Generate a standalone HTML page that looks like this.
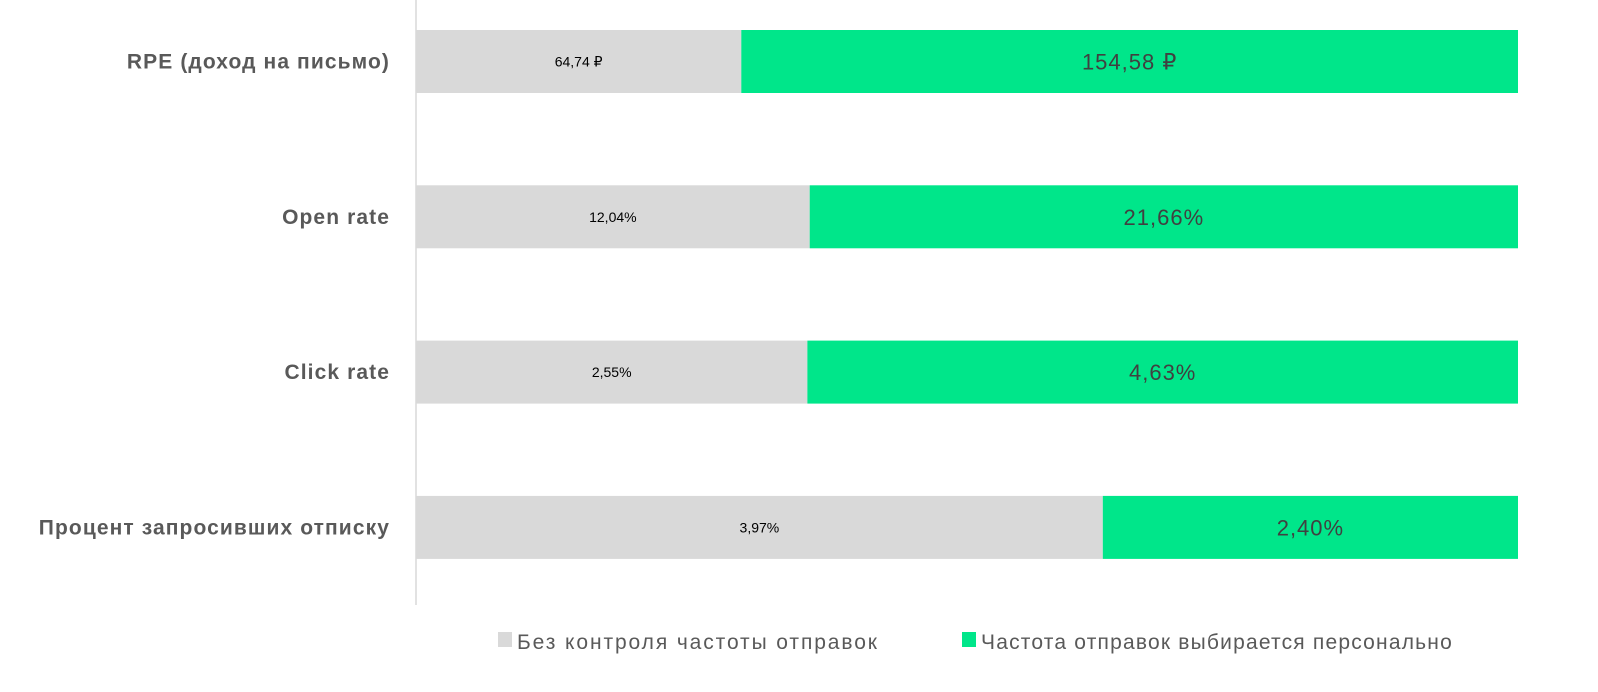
<!DOCTYPE html>
<html><head><meta charset="utf-8"><style>
body{margin:0;background:#fff;}
svg{display:block;font-family:"Liberation Sans","DejaVu Sans",sans-serif;}
</style></head><body>
<svg id="chart" width="1598" height="692">
<line x1="416" y1="0" x2="416" y2="605" stroke="#d9d9d9" stroke-width="1.5"/>
<g id="bars"></g>
<g>
<rect x="498" y="632" width="14" height="15" fill="#d9d9d9"/>
<text x="517" y="649" font-size="21" letter-spacing="1.9" fill="#595959">Без контроля частоты отправок</text>
<rect x="962" y="632" width="14" height="15" fill="#00e68a"/>
<text x="981" y="649" font-size="21" letter-spacing="1.2" fill="#595959">Частота отправок выбирается персонально</text>
</g>
</svg>
<script>
const categories = ["RPE (доход на письмо)","Open rate","Click rate","Процент запросивших отписку"];
const controlValues = [64.74, 12.04, 2.55, 3.97];
const personalValues = [154.58, 21.66, 4.63, 2.40];
const controlLabels = ["64,74 ₽","12,04%","2,55%","3,97%"];
const personalLabels = ["154,58 ₽","21,66%","4,63%","2,40%"];

const NS="http://www.w3.org/2000/svg";
const g=document.getElementById('bars');
const x0=416, x1=1518, top0=30, step=155.3, bh=63;
function xs(frac){return x0+frac*(x1-x0);}
function mk(tag,attrs){const e=document.createElementNS(NS,tag);for(const k in attrs)e.setAttribute(k,attrs[k]);g.appendChild(e);return e;}
categories.forEach((c,i)=>{
  const tot=controlValues[i]+personalValues[i];
  const xm=xs(controlValues[i]/tot);
  const y=top0+i*step;
  const r1=mk('rect',{x:x0,y:y,width:xm-x0,height:bh,fill:'#d9d9d9'});
  
  
  const r2=mk('rect',{x:xm,y:y,width:x1-xm,height:bh,fill:'#00e68a'});
  
  
  const t1=mk('text',{x:(x0+xm)/2,y:y+bh/2+5,'font-size':14,fill:'#000','text-anchor':'middle'});
  t1.textContent=controlLabels[i];
  
  
  const t2=mk('text',{x:(xm+x1)/2,y:y+bh/2+8,'font-size':22,'letter-spacing':1,fill:'#404040','text-anchor':'middle'});
  t2.textContent=personalLabels[i];
  
  
  const t3=mk('text',{x:390,y:y+bh/2+7,'font-size':21,'letter-spacing':1.1,'font-weight':'bold',fill:'#595959','text-anchor':'end'});
  t3.textContent=c;
  
  
});
</script>
</body></html>
